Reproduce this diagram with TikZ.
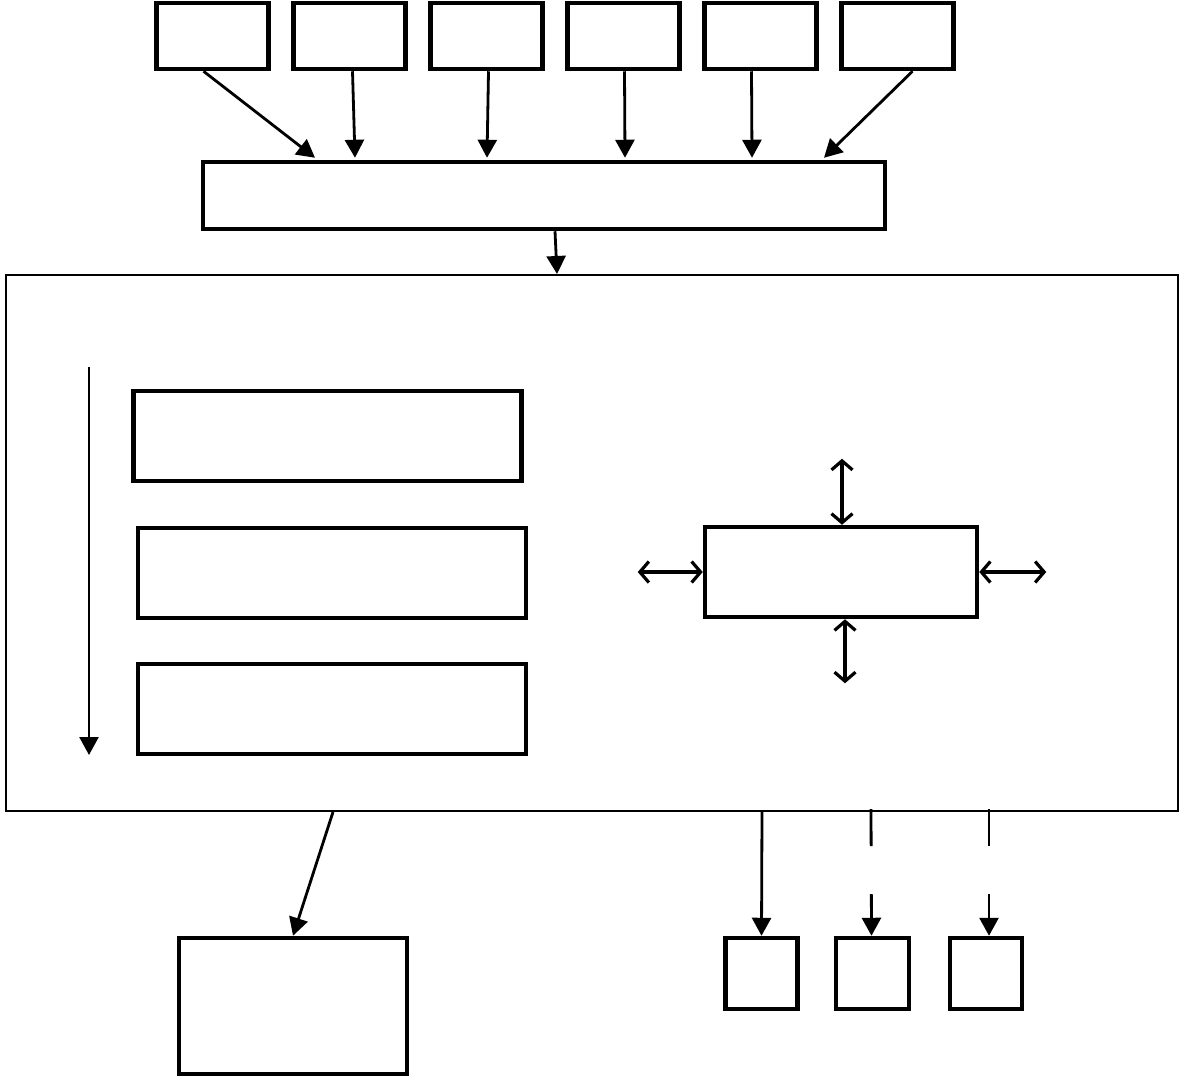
\documentclass[tikz,border=0pt]{standalone}
\usetikzlibrary{arrows.meta,positioning}
\begin{document}
\begin{tikzpicture}[x=1pt, y=-1pt, node distance=20.5pt,
  box/.style = {draw, line width=4.5pt, inner sep=0pt},
  src/.style = {box, minimum width=112pt, minimum height=66pt},
  stage/.style = {box, minimum width=388pt, minimum height=90pt},
  unit/.style = {box, minimum width=72pt, minimum height=71pt},
  arr/.style = {line width=2.8pt, -{Triangle[length=18pt,width=19pt]}},
  dbl/.style = {line width=3.2pt, {Straight Barb[length=9pt,width=21pt]}-{Straight Barb[length=9pt,width=21pt]}}]
  \useasboundingbox (0,0) rectangle (1183,1077);
  % sources
  \node[src] (t1) at (212.5,36) {};
  \node[src] (t2) [right=of t1] {};
  \node[src] (t3) [right=of t2] {};
  \node[src] (t4) [right=of t3] {};
  \node[src] (t5) [right=of t4] {};
  \node[src] (t6) [right=of t5] {};
  \node[box, minimum width=682pt, minimum height=67pt] (bar) at (544,195.5) {};
  \foreach \i/\a/\b in {1/-9/-229, 2/3/-189, 3/2/-57, 4/1/81, 5/-9/208, 6/15/280}
    \draw[arr] ([xshift=\a pt]t\i.south) -- ([xshift=\b pt, yshift=2pt]bar.north);
  % main frame
  \node[draw, line width=2pt, inner sep=0pt, minimum width=1172pt, minimum height=536pt] (frame) at (592,543) {};
  \draw[arr] ([xshift=11pt]bar.south) -- ([xshift=-35pt]frame.north);
  % stages
  \coordinate (flowtop) at (89,367);
  \coordinate (flowend) at (89,755);
  \draw[arr, line width=2.4pt] (flowtop) -- (flowend);
  \node[stage] (s1) at (327.5,436) {};
  \node[stage] (s2) at (332,573) {};
  \node[stage] (s3) at (332,709) {};
  % core
  \node[box, minimum width=272pt, minimum height=90pt] (core) at (841,572) {};
  \coordinate (cn) at ([xshift=1pt, yshift=66pt]core.north);
  \coordinate (cs) at ([xshift=4pt, yshift=-64pt]core.south);
  \coordinate (cw) at ([xshift=-65pt]core.west);
  \coordinate (ce) at ([xshift=67pt]core.east);
  \draw[dbl] ([xshift=1pt]core.north) -- (cn);
  \draw[dbl] ([xshift=4pt]core.south) -- (cs);
  \draw[dbl] (core.west) -- (cw);
  \draw[dbl] (core.east) -- (ce);
  % outputs
  \node[box, minimum width=228pt, minimum height=136pt] (store) at (293,1006) {};
  \node[unit] (u1) at (761.5,973.5) {};
  \node[unit, minimum width=73pt] (u2) at (872.5,973.5) {};
  \node[unit] (u3) at (986,973.5) {};
  \draw[arr] ([xshift=-259pt]frame.south) -- (store.north);
  \draw[arr] ([xshift=170pt]frame.south) -- (u1.north);
  \draw[arr, dash pattern=on 37pt off 48pt on 60pt] ([xshift=279pt, yshift=3pt]frame.south) -- ([xshift=-1pt]u2.north);
  \draw[arr, dash pattern=on 37pt off 48pt on 60pt] ([xshift=397pt, yshift=3pt]frame.south) -- ([xshift=3pt]u3.north);
\end{tikzpicture}
\end{document}
